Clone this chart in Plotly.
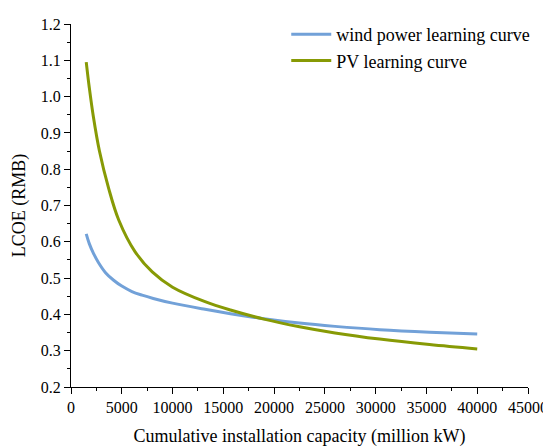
import plotly.graph_objects as go

# Cumulative installation capacity (million kW)
pv_x = [1500, 1800, 2200, 2800, 3700, 4700, 6300, 8000, 10000, 13200, 15700,
        19000, 22500, 26000, 30400, 35300, 40000]
pv_y = [1.095, 1.025, 0.945, 0.850, 0.748, 0.660, 0.573, 0.517, 0.475, 0.435, 0.412,
        0.387, 0.366, 0.349, 0.332, 0.317, 0.305]

wind_x = [1500, 1800, 2200, 2700, 3400, 4200, 5000, 6000, 7000, 8100, 10000, 13200,
          15700, 19000, 22500, 26000, 30400, 35300, 40000]
wind_y = [0.622, 0.595, 0.569, 0.543, 0.515, 0.494, 0.478, 0.463, 0.453, 0.444, 0.431, 0.414,
          0.402, 0.388, 0.376, 0.367, 0.358, 0.351, 0.346]

series_names = ["wind power learning curve", "PV learning curve"]

font = "Liberation Serif, Times New Roman, serif"

fig = go.Figure()
fig.add_trace(go.Scatter(x=wind_x, y=wind_y, mode="lines", name=series_names[0],
                         line=dict(color="#72a1d8", width=3, shape="spline", smoothing=1.0)))
fig.add_trace(go.Scatter(x=pv_x, y=pv_y, mode="lines", name=series_names[1],
                         line=dict(color="#879a05", width=3, shape="spline", smoothing=1.0)))

axis_common = dict(showline=True, linecolor="black", linewidth=1.2, ticks="outside",
                   ticklen=6, tickcolor="black", tickwidth=1.2, showgrid=False, zeroline=False,
                   tickfont=dict(family=font, size=16, color="black"), mirror=False,
                   automargin=False)

# the page body adds an 8px margin, so the figure is 8px smaller than the window
fig.update_layout(
    width=543, height=439,
    margin=dict(l=63, r=23, t=8, b=60),
    paper_bgcolor="white", plot_bgcolor="white",
    font=dict(family=font, color="black"),
    xaxis=dict(range=[0, 45000], tickvals=list(range(0, 45001, 5000)), tickformat="d",
               title=dict(text="Cumulative installation capacity (million kW)",
                          font=dict(family=font, size=18, color="black"), standoff=16),
               minor=dict(dtick=2500, tick0=0, ticks="outside", ticklen=3, tickcolor="black", tickwidth=1),
               **axis_common),
    yaxis=dict(range=[0.2, 1.2], dtick=0.1, tick0=0.2, tickformat=".1f",
               title=dict(text="LCOE (RMB)", font=dict(family=font, size=18, color="black"), standoff=10),
               minor=dict(dtick=0.05, tick0=0.2, ticks="outside", ticklen=3, tickcolor="black", tickwidth=1),
               **axis_common),
    legend=dict(x=0.471, y=1.022, xanchor="left", yanchor="top", bgcolor="rgba(0,0,0,0)",
                font=dict(family=font, size=18, color="black"), tracegroupgap=0, itemwidth=40),
    showlegend=True,
)

fig.write_html("out.html")
